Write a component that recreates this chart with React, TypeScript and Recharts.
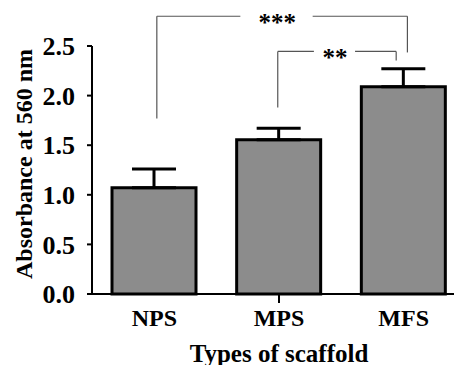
import React from 'react';
import {
  BarChart,
  Bar,
  XAxis,
  YAxis,
  ErrorBar,
  ReferenceLine,
  ReferenceDot,
} from 'recharts';

// values
const categories = ['NPS', 'MPS', 'MFS'];
const absorbance = [1.07, 1.555, 2.09];
const sem = [0.19, 0.115, 0.18];
const yTicks = [0, 0.5, 1.0, 1.5, 2.0, 2.5];

// significance brackets, x in category index units
const bracketLabels = ['***', '**'];
const bracketY = [2.8, 2.445];
const bracketLeft = [0.02, 0.99];
const bracketRight = [2.03, 1.94];
const bracketLeftBottom = [1.77, 1.88];
const bracketRightBottom = [2.435, 2.355];
const gapLeft = [0.69, 1.28];
const gapRight = [1.27, 1.61];
const labelX = [0.985, 1.45];

const data = categories.map((name, i) => ({
  name,
  idx: i,
  value: absorbance[i],
  err: [0, sem[i]],
}));

const FONT = '"Liberation Serif", "Times New Roman", serif';
const LINE = '#555';

const XTick = (props: any) => {
  const { x, y, payload } = props;
  return (
    <g>
      {payload.value === 'MPS' && (
        <line x1={x} y1={y} x2={x} y2={y + 9} stroke="#000" strokeWidth={2} />
      )}
      <text
        x={x}
        y={y + 32}
        textAnchor="middle"
        fontFamily={FONT}
        fontWeight="bold"
        fontSize={24}
        fill="#000"
      >
        {payload.value}
      </text>
    </g>
  );
};

const YTitle = (props: any) => {
  const vb = props.viewBox;
  const cx = vb.x + 24;
  const cy = vb.y + vb.height / 2 - 6;
  return (
    <text
      x={cx}
      y={cy}
      transform={`rotate(-90 ${cx} ${cy})`}
      textAnchor="middle"
      dominantBaseline="central"
      fontFamily={FONT}
      fontWeight="bold"
      fontSize={24}
      fill="#000"
    >
      Absorbance at 560 nm
    </text>
  );
};

const XTitle = (props: any) => {
  const vb = props.viewBox;
  return (
    <text
      x={vb.x + vb.width / 2}
      y={vb.y + 68}
      textAnchor="middle"
      fontFamily={FONT}
      fontWeight="bold"
      fontSize={25}
      fill="#000"
    >
      Types of scaffold
    </text>
  );
};

export default function App() {
  return (
    <div style={{ margin: -8, background: '#fff', width: 462, height: 373, overflow: 'hidden' }}>
      <BarChart
        width={466}
        height={373}
        data={data}
        margin={{ top: 46, right: 0, bottom: 0, left: 0 }}
      >
        <XAxis
          dataKey="name"
          axisLine={{ stroke: '#000', strokeWidth: 2 }}
          tickLine={false}
          tickSize={0}
          tickMargin={0}
          height={79}
          tick={<XTick />}
          label={<XTitle />}
        />
        <XAxis
          xAxisId="num"
          dataKey="idx"
          type="number"
          domain={[-0.5, 2.5]}
          allowDataOverflow
          hide
        />
        <YAxis
          width={92}
          domain={[0, 2.5]}
          ticks={yTicks}
          tickFormatter={(v: number) => v.toFixed(1)}
          axisLine={{ stroke: '#000', strokeWidth: 2 }}
          tickLine={{ stroke: '#000', strokeWidth: 2 }}
          tickSize={5}
          tickMargin={12}
          tick={{ fill: '#000', fontFamily: FONT, fontWeight: 'bold', fontSize: 26 }}
          label={<YTitle />}
        />
        <Bar
          dataKey="value"
          fill="#8c8c8c"
          stroke="#000"
          strokeWidth={3}
          barSize={84}
          isAnimationActive={false}
        >
          <ErrorBar dataKey="err" width={22} stroke="#000" strokeWidth={3} direction="y" />
        </Bar>
        {bracketLabels.map((lab, i) => (
          <React.Fragment key={lab}>
            <ReferenceLine
              xAxisId="num"
              ifOverflow="visible"
              stroke={LINE}
              strokeWidth={1.2}
              segment={[
                { x: bracketLeft[i], y: bracketLeftBottom[i] },
                { x: bracketLeft[i], y: bracketY[i] },
              ]}
            />
            <ReferenceLine
              xAxisId="num"
              ifOverflow="visible"
              stroke={LINE}
              strokeWidth={1.2}
              segment={[
                { x: bracketLeft[i], y: bracketY[i] },
                { x: gapLeft[i], y: bracketY[i] },
              ]}
            />
            <ReferenceLine
              xAxisId="num"
              ifOverflow="visible"
              stroke={LINE}
              strokeWidth={1.2}
              segment={[
                { x: gapRight[i], y: bracketY[i] },
                { x: bracketRight[i], y: bracketY[i] },
              ]}
            />
            <ReferenceLine
              xAxisId="num"
              ifOverflow="visible"
              stroke={LINE}
              strokeWidth={1.2}
              segment={[
                { x: bracketRight[i], y: bracketY[i] },
                { x: bracketRight[i], y: bracketRightBottom[i] },
              ]}
            />
            <ReferenceDot
              xAxisId="num"
              x={labelX[i]}
              y={bracketY[i]}
              r={0}
              ifOverflow="visible"
              label={{
                value: lab,
                position: 'center',
                dy: 6,
                fill: '#000',
                fontFamily: FONT,
                fontWeight: 'bold',
                fontSize: 25,
              }}
            />
          </React.Fragment>
        ))}
      </BarChart>
    </div>
  );
}
